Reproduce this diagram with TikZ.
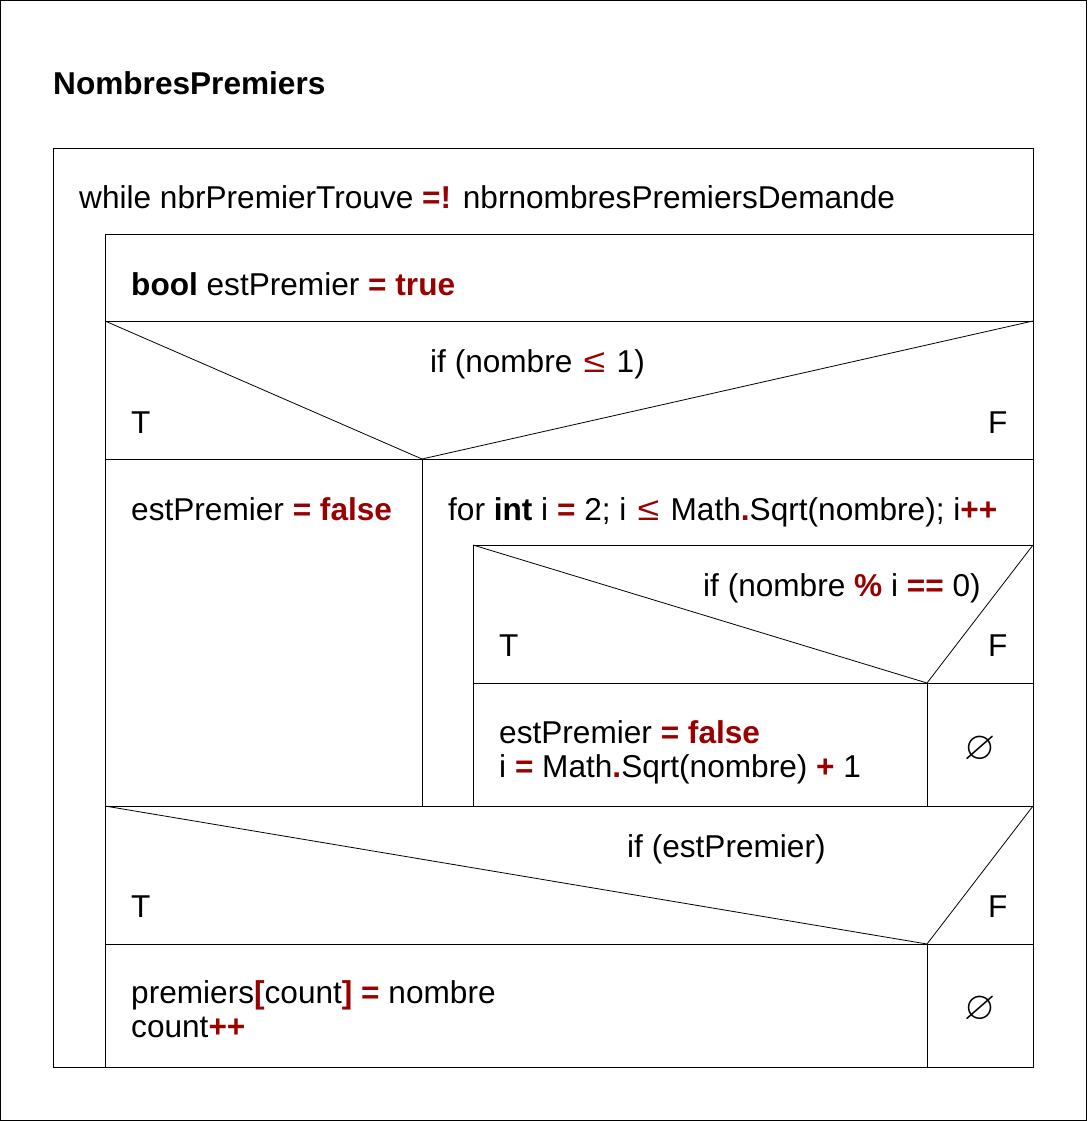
\documentclass[tikz,border=0pt]{standalone}
\usepackage{fontspec}
\setmainfont{Liberation Sans}
\usepackage{graphicx}
\usepackage{amssymb}
\definecolor{nsred}{RGB}{153,0,0}
\newcommand{\Rd}[1]{\textcolor{nsred}{\bfseries #1}}
\newcommand{\Le}{\hspace{2.5pt}\textcolor{nsred}{\scalebox{1.25}[1.05]{≤}}\hspace{2.5pt}}
\begin{document}
\begin{tikzpicture}[x=1pt,y=-1pt,
  txt/.style={anchor=base west,inner sep=0pt,font=\fontsize{31.6}{36}\selectfont},
  box/.style={draw=black,line width=1pt},
  diag/.style={draw=black,line width=0.8pt},
  nul/.style={anchor=center,inner sep=0pt}]
\useasboundingbox (0,0) rectangle (1087,1121);
% outer frame
\draw[box] (0.5,0.5) rectangle (1086.5,1120.5);
\node[txt] (title) at (53,95) {\bfseries NombresPremiers};
% main while box
\draw[box] (53,148) rectangle (1033,1067);
\node[txt] (while) at (79,208) {while nbrPremierTrouve \Rd{=!} nbrnombresPremiersDemande};
% body outline
\draw[box] (105,234) rectangle (1033,1067);
% bool row
\node[txt] (bool) at (131,295) {\bfseries bool \mdseries estPremier \Rd{=} \Rd{true}};
\draw[box] (105,321) -- (1033,321);
% if nombre <= 1
\draw[diag] (105,321) -- (422,459) -- (1033,321);
\node[txt] (if1) at (430,372) {if (nombre \Le{} 1)};
\node[txt] (t1) at (131,433) {T};
\node[txt] (f1) at (988,433) {F};
\draw[box] (105,459) -- (1033,459);
\draw[box] (422,459) -- (422,806);
% left branch
\node[txt] (ef1) at (131,520) {estPremier \Rd{=} \Rd{false}};
% for loop
\node[txt] (for) at (448,520) {for \textbf{int} i \Rd{=} 2; i \Le{} Math\Rd{.}Sqrt(nombre); i\Rd{++}};
\draw[box] (473,545) -- (1033,545);
\draw[box] (473,545) -- (473,806);
% if nombre % i == 0
\draw[diag] (473,545) -- (927,683) -- (1033,545);
\node[txt] (if2) at (703,596) {if (nombre \Rd{\%} i \Rd{==} 0)};
\node[txt] (t2) at (499,656) {T};
\node[txt] (f2) at (988,656) {F};
\draw[box] (473,683) -- (1033,683);
\draw[box] (927,683) -- (927,806);
\node[txt] (ef2) at (499,743) {estPremier \Rd{=} \Rd{false}};
\node[txt] (iset) at (499,777) {i \Rd{=} Math\Rd{.}Sqrt(nombre) \Rd{+} 1};
\node[nul] (n1) at (980,749) {\scalebox{4}{$\varnothing$}};
% if estPremier
\draw[box] (105,806) -- (1033,806);
\draw[diag] (105,806) -- (927,944) -- (1033,806);
\node[txt] (if3) at (627,857) {if (estPremier)};
\node[txt] (t3) at (131,917) {T};
\node[txt] (f3) at (988,917) {F};
\draw[box] (105,944) -- (1033,944);
\draw[box] (927,944) -- (927,1067);
\node[txt] (prem) at (131,1003) {premiers\Rd{[}count\Rd{]} \Rd{=} nombre};
\node[txt] (cnt) at (131,1037) {count\Rd{++}};
\node[nul] (n2) at (980,1009) {\scalebox{4}{$\varnothing$}};
\end{tikzpicture}
\end{document}
